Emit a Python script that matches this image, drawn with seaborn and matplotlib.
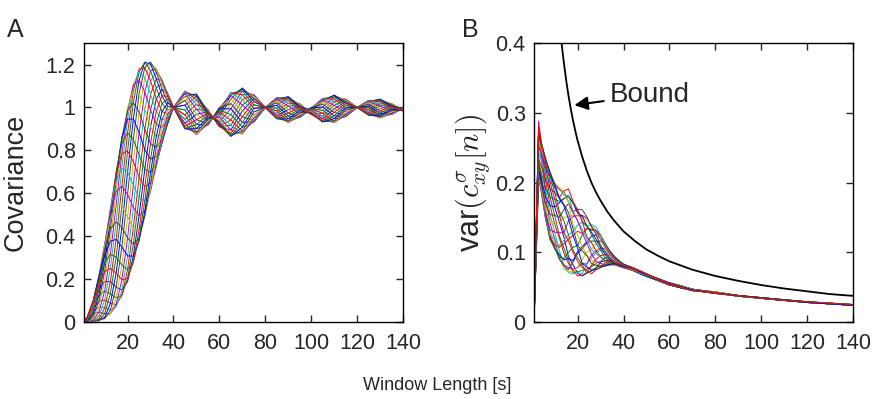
import pandas as pd
import matplotlib
matplotlib.use('Agg')
import matplotlib.pyplot as plt
import seaborn as sns
from matplotlib.ticker import FuncFormatter

# Panel A: window lengths (s) where the 24 covariance curves were read
window_a = [1, 2.5, 5, 7.5, 10, 12.5, 15, 17.5, 20, 22.5, 25, 27.5, 30, 32.5, 35, 37.5, 40,
            45, 50, 55, 57.5, 60, 65, 70, 75, 80, 85, 90, 95, 100, 105, 110, 115, 120,
            125, 130, 135, 140]

# one row per window length, one value per curve (24 curves)
cov_a = [
    [0, 0, 0, 0, 0, 0, 0, 0, 0, 0, 0, 0, 0, 0, 0, 0, 0, 0, 0, 0, 0, 0, 0, 0],
    [.024, .023, .021, .018, .015, .011, .008, .005, .003, .001, .000, .000, .001, .003, .005, .008, .011, .015, .018, .021, .023, .024, .025, .025],
    [.085, .075, .063, .050, .038, .026, .015, .008, .003, .001, .003, .008, .015, .026, .038, .050, .063, .075, .085, .093, .098, .100, .098, .093],
    [.151, .124, .097, .070, .046, .027, .013, .006, .006, .013, .027, .046, .070, .097, .124, .151, .175, .194, .208, .215, .215, .208, .194, .175],
    [.189, .144, .102, .066, .039, .021, .015, .021, .039, .066, .102, .144, .189, .235, .276, .312, .340, .358, .363, .358, .340, .312, .276, .235],
    [.188, .132, .087, .055, .038, .038, .055, .087, .132, .188, .250, .315, .377, .433, .478, .511, .527, .527, .511, .478, .433, .377, .315, .250],
    [.162, .112, .081, .070, .081, .112, .162, .228, .303, .385, .467, .543, .608, .658, .689, .700, .689, .658, .608, .543, .467, .385, .303, .228],
    [.149, .124, .124, .149, .197, .266, .349, .442, .539, .633, .716, .784, .833, .858, .858, .833, .784, .716, .633, .539, .442, .349, .266, .197],
    [.189, .203, .244, .308, .392, .490, .595, .700, .797, .881, .946, .986, 1.0, .986, .946, .881, .797, .700, .595, .490, .392, .308, .244, .203],
    [.307, .362, .439, .533, .638, .747, .851, .946, 1.022, 1.077, 1.105, 1.105, 1.077, 1.022, .946, .851, .747, .638, .533, .439, .362, .307, .279, .279],
    [.495, .578, .675, .779, .883, .979, 1.063, 1.126, 1.166, 1.180, 1.166, 1.126, 1.063, .979, .883, .779, .675, .578, .495, .431, .391, .377, .391, .431],
    [.713, .804, .899, .991, 1.072, 1.139, 1.186, 1.211, 1.211, 1.186, 1.139, 1.072, .991, .899, .804, .713, .631, .565, .517, .493, .493, .517, .565, .631],
    [.910, .988, 1.061, 1.124, 1.172, 1.202, 1.212, 1.202, 1.172, 1.124, 1.061, .988, .910, .832, .759, .696, .648, .618, .608, .618, .648, .696, .759, .832],
    [1.040, 1.092, 1.134, 1.164, 1.179, 1.179, 1.164, 1.134, 1.092, 1.040, .983, .923, .865, .814, .772, .742, .726, .726, .742, .772, .814, .865, .923, .983],
    [1.085, 1.109, 1.124, 1.129, 1.124, 1.109, 1.085, 1.055, 1.019, .981, .942, .907, .876, .852, .838, .833, .838, .852, .876, .907, .942, .981, 1.019, 1.055],
    [1.060, 1.064, 1.064, 1.060, 1.051, 1.038, 1.022, 1.005, .987, .969, .953, .941, .932, .927, .927, .932, .941, .953, .969, .987, 1.005, 1.022, 1.038, 1.051],
    [1, 1, 1, 1, 1, 1, 1, 1, 1, 1, 1, 1, 1, 1, 1, 1, 1, 1, 1, 1, 1, 1, 1, 1],
    [.926, .944, .965, .988, 1.011, 1.033, 1.051, 1.065, 1.074, 1.077, 1.074, 1.065, 1.051, 1.033, 1.011, .988, .965, .944, .926, .912, .903, .900, .903, .912],
    [.968, .992, 1.015, 1.035, 1.050, 1.059, 1.063, 1.059, 1.050, 1.035, 1.015, .992, .968, .943, .920, .901, .885, .876, .873, .876, .885, .901, .920, .943],
    [.980, .986, .989, .990, .989, .986, .980, .972, .964, .954, .945, .936, .929, .923, .919, .918, .919, .923, .929, .936, .945, .954, .964, .972],
    [.948, .948, .948, .948, .949, .950, .951, .952, .953, .955, .956, .957, .957, .958, .958, .957, .957, .956, .955, .953, .952, .951, .950, .949],
    [.910, .912, .916, .923, .933, .943, .955, .967, .978, .987, .994, .999, 1.0, .999, .994, .987, .978, .967, .955, .943, .933, .923, .916, .912],
    [.895, .916, .941, .967, .994, 1.018, 1.039, 1.056, 1.066, 1.069, 1.066, 1.056, 1.039, 1.018, .994, .967, .941, .916, .895, .879, .869, .865, .869, .879],
    [.984, 1.011, 1.037, 1.060, 1.077, 1.087, 1.091, 1.087, 1.077, 1.060, 1.037, 1.011, .984, .956, .930, .908, .890, .880, .876, .880, .890, .908, .930, .956],
    [1.041, 1.051, 1.058, 1.060, 1.058, 1.051, 1.041, 1.028, 1.012, .996, .979, .964, .950, .940, .934, .932, .934, .940, .950, .964, .979, .996, 1.012, 1.028],
    [1, 1, 1, 1, 1, 1, 1, 1, 1, 1, 1, 1, 1, 1, 1, 1, 1, 1, 1, 1, 1, 1, 1, 1],
    [.962, .972, .984, .997, 1.010, 1.022, 1.032, 1.040, 1.045, 1.046, 1.045, 1.040, 1.032, 1.022, 1.010, .997, .984, .972, .962, .954, .949, .947, .949, .954],
    [.990, 1.006, 1.020, 1.033, 1.043, 1.049, 1.051, 1.049, 1.043, 1.033, 1.020, 1.006, .990, .974, .960, .947, .937, .931, .929, .931, .937, .947, .960, .974],
    [1.007, 1.013, 1.016, 1.017, 1.016, 1.013, 1.007, 1.001, .993, .985, .976, .969, .962, .957, .954, .953, .954, .957, .962, .969, .976, .985, .993, 1.001],
    [.968, .968, .970, .972, .976, .980, .984, .988, .992, .995, .998, .999, 1.0, .999, .998, .995, .992, .988, .984, .980, .976, .972, .970, .968],
    [.948, .960, .973, .987, 1.002, 1.015, 1.027, 1.035, 1.041, 1.043, 1.041, 1.035, 1.027, 1.015, 1.002, .987, .973, .960, .948, .939, .934, .932, .934, .939],
    [.993, 1.010, 1.026, 1.039, 1.049, 1.056, 1.058, 1.056, 1.049, 1.039, 1.026, 1.010, .993, .977, .961, .948, .937, .931, .929, .931, .937, .948, .961, .977],
    [1.027, 1.034, 1.038, 1.039, 1.038, 1.034, 1.027, 1.019, 1.009, .998, .988, .978, .969, .963, .959, .957, .959, .963, .969, .978, .988, .998, 1.009, 1.019],
    [1, 1, 1, 1, 1, 1, 1, 1, 1, 1, 1, 1, 1, 1, 1, 1, 1, 1, 1, 1, 1, 1, 1, 1],
    [.974, .981, .990, .999, 1.007, 1.016, 1.023, 1.028, 1.032, 1.033, 1.032, 1.028, 1.023, 1.016, 1.007, .999, .990, .981, .974, .969, .965, .964, .965, .969],
    [.995, 1.007, 1.017, 1.027, 1.034, 1.038, 1.039, 1.038, 1.034, 1.027, 1.017, 1.007, .995, .984, .973, .964, .957, .953, .951, .953, .957, .964, .973, .984],
    [1.011, 1.015, 1.017, 1.018, 1.017, 1.015, 1.011, 1.005, .999, .992, .986, .980, .974, .970, .968, .967, .968, .970, .974, .980, .986, .992, .999, 1.005],
    [.983, .984, .985, .986, .988, .990, .992, .994, .996, .998, .999, 1.0, 1.0, 1.0, .999, .998, .996, .994, .992, .990, .988, .986, .985, .984],
]

# Panel B: window lengths (s) and variance of the 24 curves
window_b = [1, 2, 3, 4, 6, 8, 10, 12, 14, 16, 18, 20, 22, 24, 26, 28, 30, 32, 34, 36, 38, 40,
            44, 48, 52, 56, 60, 65, 70, 80, 90, 100, 110, 120, 130, 140]

var_b = [
    [0, 0, 0, 0, 0, 0, 0, 0, 0, 0, 0, 0, 0, 0, 0, 0, 0, 0, 0, 0, 0, 0, 0, 0],
    [.144, .142, .138, .134, .128, .123, .117, .111, .107, .103, .101, .100, .101, .103, .107, .111, .117, .123, .128, .134, .138, .142, .144, .145],
    [.279, .275, .269, .261, .288, .243, .233, .224, .216, .210, .206, .205, .206, .210, .216, .224, .233, .243, .252, .261, .269, .275, .279, .280],
    [.255, .250, .243, .234, .262, .216, .208, .200, .195, .191, .190, .191, .195, .200, .208, .216, .225, .234, .243, .250, .255, .259, .260, .259],
    [.222, .213, .203, .192, .180, .170, .161, .154, .149, .148, .149, .154, .161, .170, .180, .192, .203, .213, .222, .229, .234, .235, .234, .229],
    [.191, .179, .167, .154, .142, .132, .124, .120, .118, .120, .124, .132, .142, .154, .167, .179, .191, .201, .209, .213, .215, .213, .209, .201],
    [.165, .153, .140, .129, .119, .111, .107, .105, .107, .111, .119, .129, .140, .153, .165, .176, .186, .194, .198, .200, .198, .194, .186, .176],
    [.144, .124, .121, .103, .092, .095, .090, .097, .093, .107, .109, .128, .144, .150, .171, .173, .178, .191, .190, .193, .179, .177, .159, .154],
    [.122, .106, .099, .081, .082, .076, .081, .089, .091, .112, .117, .128, .150, .161, .177, .177, .188, .182, .187, .185, .169, .167, .145, .128],
    [.094, .089, .084, .071, .078, .072, .075, .091, .100, .119, .125, .145, .151, .170, .181, .180, .191, .181, .172, .172, .157, .148, .125, .116],
    [.082, .071, .074, .069, .076, .072, .086, .088, .107, .124, .130, .151, .153, .158, .171, .170, .173, .159, .157, .139, .134, .124, .103, .100],
    [.070, .072, .066, .071, .078, .079, .098, .101, .110, .130, .139, .153, .152, .162, .156, .161, .160, .145, .145, .125, .110, .106, .092, .087],
    [.066, .074, .067, .069, .084, .090, .105, .108, .125, .127, .143, .153, .151, .161, .152, .144, .145, .133, .128, .108, .102, .084, .082, .078],
    [.070, .076, .071, .083, .083, .100, .113, .115, .134, .134, .137, .149, .147, .151, .138, .138, .122, .119, .113, .096, .095, .079, .070, .074],
    [.073, .079, .081, .092, .096, .104, .116, .123, .132, .133, .140, .137, .139, .137, .129, .126, .114, .104, .098, .089, .084, .075, .074, .069],
    [.077, .084, .090, .099, .102, .112, .116, .125, .131, .131, .136, .131, .127, .126, .119, .113, .102, .098, .087, .083, .081, .075, .078, .075],
    [.086, .087, .095, .103, .106, .116, .116, .119, .124, .124, .125, .119, .118, .110, .107, .103, .094, .093, .084, .079, .080, .078, .081, .079],
    [.088, .092, .097, .101, .105, .108, .111, .112, .113, .112, .111, .108, .105, .101, .097, .092, .088, .085, .082, .081, .080, .081, .082, .085],
    [.089, .092, .095, .097, .099, .101, .102, .102, .102, .101, .099, .097, .095, .092, .089, .087, .085, .083, .082, .082, .082, .083, .085, .087],
    [.088, .090, .091, .092, .093, .094, .094, .094, .093, .092, .091, .090, .088, .086, .085, .084, .083, .082, .082, .082, .083, .084, .085, .086],
    [.085, .086, .087, .087, .088, .088, .088, .087, .087, .086, .085, .084, .083, .082, .081, .081, .080, .080, .080, .081, .081, .082, .083, .084],
    [.082, .082, .083, .083, .083, .083, .083, .082, .082, .081, .081, .080, .079, .079, .078, .078, .078, .078, .078, .079, .079, .080, .081, .081],
    [.078, .078, .078, .078, .078, .077, .077, .077, .076, .075, .075, .075, .074, .074, .074, .074, .074, .075, .075, .075, .076, .077, .077, .077],
    [.072, .072, .072, .071, .071, .071, .070, .069, .069, .069, .068, .068, .068, .068, .068, .069, .069, .069, .070, .071, .071, .071, .072, .072],
    [.066, .066, .065, .065, .065, .064, .064, .063, .063, .063, .063, .063, .063, .063, .064, .064, .065, .065, .065, .066, .066, .066, .066, .066],
    [.060, .060, .060, .059, .059, .058, .058, .058, .058, .058, .058, .058, .059, .059, .060, .060, .060, .061, .061, .061, .061, .061, .061, .061],
    [.055, .054, .054, .053, .053, .053, .053, .053, .053, .053, .054, .054, .055, .055, .055, .056, .056, .056, .056, .056, .056, .056, .055, .055],
    [.050, .049, .049, .049, .049, .049, .049, .049, .050, .050, .051, .051, .051, .052, .052, .052, .052, .052, .052, .052, .051, .051, .051, .050],
    [.045, .045, .045, .045, .045, .046, .046, .046, .046, .047, .047, .047, .047, .047, .047, .047, .047, .047, .046, .046, .046, .046, .045, .045],
    [.042, .042, .042, .042, .043, .043, .043, .043, .043, .043, .043, .043, .043, .042, .042, .042, .042, .041, .041, .041, .041, .041, .041, .041],
    [.038, .038, .038, .038, .038, .038, .038, .038, .038, .037, .037, .037, .037, .037, .037, .037, .037, .037, .037, .037, .037, .038, .038, .038],
    [.034, .034, .035, .035, .035, .035, .035, .035, .034, .034, .034, .034, .034, .034, .034, .034, .034, .034, .034, .034, .034, .034, .034, .034],
    [.031, .031, .031, .032, .032, .032, .032, .032, .032, .031, .031, .031, .031, .031, .031, .031, .031, .031, .031, .031, .031, .031, .031, .031],
    [.029, .029, .029, .029, .029, .029, .029, .029, .029, .029, .028, .028, .028, .028, .028, .028, .028, .028, .028, .028, .028, .028, .029, .029],
    [.027, .027, .027, .027, .027, .026, .026, .026, .026, .026, .026, .026, .026, .026, .026, .026, .026, .026, .026, .026, .026, .026, .027, .027],
    [.025, .025, .025, .025, .025, .025, .024, .024, .024, .024, .024, .024, .024, .024, .024, .024, .024, .024, .024, .024, .024, .024, .025, .025],
]

# black "Bound" curve of panel B
bound_x = [12, 13, 14, 15, 16, 17, 18, 19, 20, 22, 24, 26, 28, 30, 33, 36, 40, 45, 50, 55,
           60, 70, 80, 90, 100, 110, 120, 130, 140]
bound_y = [.433, .40, .372, .347, .325, .306, .289, .274, .26, .237, .217, .20, .186, .174,
           .158, .145, .13, .116, .104, .095, .087, .075, .066, .059, .053, .048, .044, .040, .0375]

sns.set_style('ticks')
plt.rcParams['font.family'] = ['Liberation Sans', 'DejaVu Sans']
plt.rcParams['mathtext.fontset'] = 'cm'

# old matlab line colour order
matlab = [(0, 0, 1), (0, .5, 0), (1, 0, 0), (0, .75, .75), (.75, 0, .75), (.75, .75, 0), (.25, .25, .25)]
pal = [matlab[i % 7] for i in range(24)]


def long_table(windows, rows, name):
    df = pd.DataFrame(rows, index=windows)
    df.index.name = 'window'
    return df.reset_index().melt(id_vars='window', var_name='curve', value_name=name)


fig = plt.figure(figsize=(8.74, 3.99), dpi=100)
ax_a = fig.add_axes([0.0961, 0.193, 0.365, 0.699])
ax_b = fig.add_axes([0.611, 0.193, 0.365, 0.699])

sns.lineplot(data=long_table(window_a, cov_a, 'cov'), x='window', y='cov', hue='curve',
             palette=pal, legend=False, linewidth=0.7, estimator=None, ax=ax_a)
sns.lineplot(data=long_table(window_b, var_b, 'var'), x='window', y='var', hue='curve',
             palette=pal, legend=False, linewidth=0.7, estimator=None, ax=ax_b)
ax_b.plot(bound_x, bound_y, color='k', lw=1.3)
ax_b.annotate('Bound', xy=(18.6, 0.311), xytext=(34, 0.326), fontsize=20, va='center',
              arrowprops=dict(arrowstyle='-|>', color='k', lw=1.5, shrinkA=2, shrinkB=0))

fmt = FuncFormatter(lambda v, p: '%g' % v)
for ax in (ax_a, ax_b):
    ax.set_xlim(1, 140)
    ax.set_xticks([20, 40, 60, 80, 100, 120, 140])
    ax.tick_params(direction='in', top=True, right=True, length=5, width=1, labelsize=15.5)
    ax.tick_params(axis='x', pad=8)
    ax.tick_params(axis='y', pad=6)
    ax.yaxis.set_major_formatter(fmt)
    ax.set_xlabel('')
    for s in ax.spines.values():
        s.set_linewidth(1)
        s.set_color('k')

ax_a.set_ylim(0, 1.3)
ax_a.set_yticks([0, 0.2, 0.4, 0.6, 0.8, 1, 1.2])
ax_a.set_ylabel('Covariance', fontsize=19.5)
ax_a.yaxis.set_label_coords(-0.172, 0.5)

ax_b.set_ylim(0, 0.4)
ax_b.set_yticks([0, 0.1, 0.2, 0.3, 0.4])
ax_b.set_ylabel(r'var$(c^{\sigma}_{xy}[n])$', fontsize=22)
ax_b.yaxis.set_label_coords(-0.13, 0.5)

fig.text(15 / 874, 1 - 30 / 399, 'A', fontsize=18, ha='center', va='center')
fig.text(470 / 874, 1 - 30 / 399, 'B', fontsize=18, ha='center', va='center')
fig.text(0.5, 0.035, 'Window Length [s]', fontsize=13, ha='center', va='center')

fig.savefig('out.png', dpi=100)
